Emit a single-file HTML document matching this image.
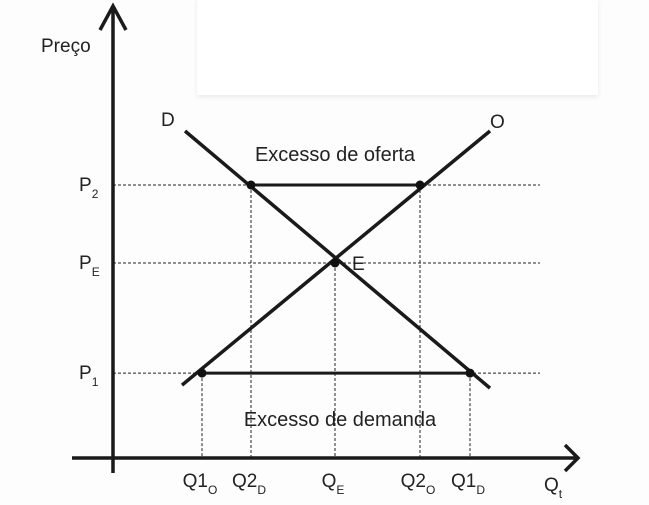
<!DOCTYPE html>
<html><head><meta charset="utf-8"><style>
html,body{margin:0;padding:0;background:#fdfdfd;}
svg{display:block;font-family:"Liberation Sans",sans-serif;}
</style></head><body>
<svg id="chart" width="649" height="505" viewBox="0 0 649 505">
<defs><filter id="sh" x="-5%" y="-10%" width="110%" height="130%"><feDropShadow dx="0" dy="2" stdDeviation="2" flood-color="#000" flood-opacity="0.08"/></filter></defs>
<rect x="0" y="0" width="649" height="505" fill="#fdfdfd"/>
<rect x="197" y="-2" width="401" height="97" fill="#ffffff" filter="url(#sh)"/>
<g id="grid"></g>
<g id="curves"></g>
<g id="axes"></g>
<g id="labels"></g>
</svg>
<script>
const priceLabels = ["P1","PE","P2"];
const priceValues = [28.3, 65, 91];
const qtyLabels = ["Q1O","Q2D","QE","Q2O","Q1D"];
const qtyValues = [17.8, 27.6, 44.4, 61.4, 71.4];
const demandLine = [[14.4,109],[75.4,23.3]];
const supplyLine = [[13.8,24.3],[75.4,109]];

const NS="http://www.w3.org/2000/svg";
const X0=113, Y0=458;
function x(q){return X0+q*5;}
function y(p){return Y0-p*3;}
function mk(tag,attrs,parent,txt){const e=document.createElementNS(NS,tag);for(const k in attrs)e.setAttribute(k,attrs[k]);if(txt!==undefined)e.textContent=txt;document.getElementById(parent).appendChild(e);return e;}

priceValues.forEach((p,i)=>{
  const l=mk('line',{x1:X0,x2:540,y1:y(p),y2:y(p),stroke:'#222','stroke-width':1,'stroke-dasharray':'3,2'},'grid');
  
  
});
const qPrice=[priceValues[0],priceValues[2],priceValues[1],priceValues[2],priceValues[0]];
qtyValues.forEach((q,i)=>{
  const l=mk('line',{x1:x(q),x2:x(q),y1:y(qPrice[i]),y2:Y0,stroke:'#222','stroke-width':1,'stroke-dasharray':'3,2'},'grid');
  
  
});
let c=mk('line',{x1:x(demandLine[0][0]),y1:y(demandLine[0][1]),x2:x(demandLine[1][0]),y2:y(demandLine[1][1]),stroke:'#1a1a1a','stroke-width':3.5},'curves');


c=mk('line',{x1:x(supplyLine[0][0]),y1:y(supplyLine[0][1]),x2:x(supplyLine[1][0]),y2:y(supplyLine[1][1]),stroke:'#1a1a1a','stroke-width':3.5},'curves');


c=mk('line',{x1:x(qtyValues[1]),x2:x(qtyValues[3]),y1:y(priceValues[2]),y2:y(priceValues[2]),stroke:'#1a1a1a','stroke-width':3},'curves');


c=mk('line',{x1:x(qtyValues[0]),x2:x(qtyValues[4]),y1:y(priceValues[0]),y2:y(priceValues[0]),stroke:'#1a1a1a','stroke-width':3},'curves');


qtyValues.forEach((q,i)=>{
  const d=mk('circle',{cx:x(q),cy:y(qPrice[i]),r:4.5,fill:'#111'},'curves');
  
  
});
let a=mk('path',{d:`M${X0},473 L${X0},8 M100,30 L${X0},6 L126,30`,stroke:'#1a1a1a','stroke-width':3.5,fill:'none'},'axes');


a=mk('path',{d:`M72,${Y0} L577,${Y0} M565,445 L578,${Y0} L565,471`,stroke:'#1a1a1a','stroke-width':3.5,fill:'none'},'axes');



function lab(txt,sub,px,py,name,anchor,fs){
  const t=mk('text',{x:px,y:py,'font-size':fs||19,fill:'#222','text-anchor':anchor||'start'},'labels');
  
  
  const m=document.createElementNS(NS,'tspan');m.textContent=txt;t.appendChild(m);
  if(sub){const s=document.createElementNS(NS,'tspan');s.setAttribute('font-size','12');s.setAttribute('dy','7');s.textContent=sub;t.appendChild(s);}
  return t;
}
priceLabels.forEach((l,i)=>{lab(l[0],l.slice(1),79,y(priceValues[i])+6,'y-tick-'+l.toLowerCase());});
qtyLabels.forEach((l,i)=>{lab(l.slice(0,-1),l.slice(-1),x(qtyValues[i])-2,487,'x-tick-'+l.toLowerCase(),'middle');});
lab('Preço',null,41,52,'y-axis-title');
lab('Q','t',544,491,'x-axis-title');
lab('D',null,161,126,'demand-label');
lab('O',null,490,128,'supply-label');
lab('E',null,352,270,'equilibrium-label');
lab('Excesso de oferta',null,335,161,'excess-supply-label','middle',20);
lab('Excesso de demanda',null,340,426,'excess-demand-label','middle',20);
</script>
</body></html>
